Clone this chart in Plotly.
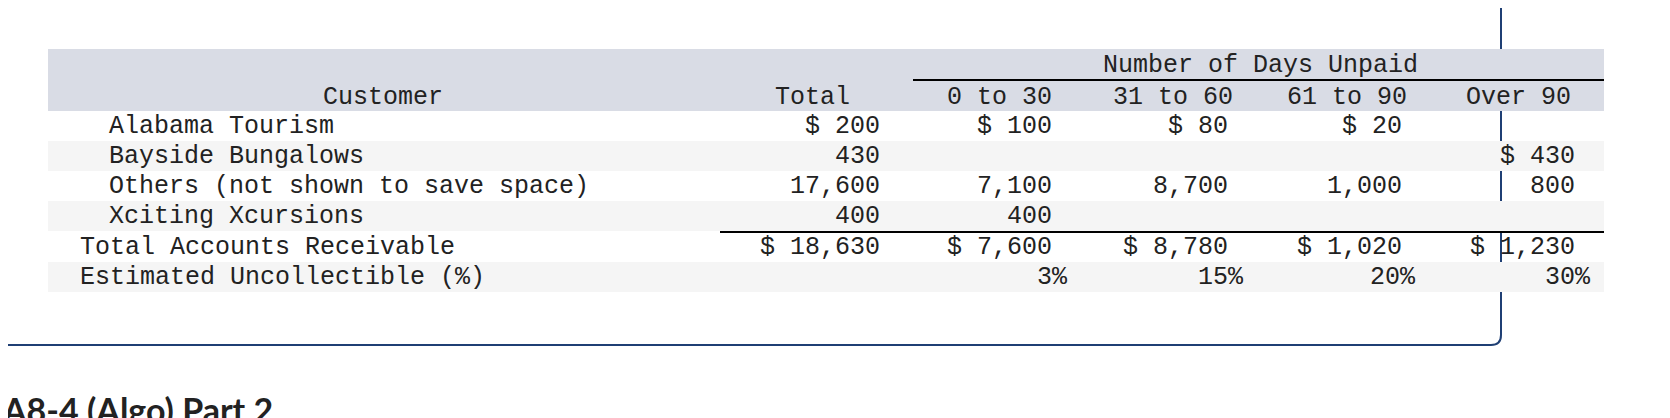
import plotly.graph_objects as go

customers = ["Alabama Tourism", "Bayside Bungalows", "Others (not shown to save space)", "Xciting Xcursions"]
total = [200, 430, 17600, 400]
d0_30 = [100, None, 7100, 400]
d31_60 = [80, None, 8700, None]
d61_90 = [20, None, 1000, None]
over90 = [None, 430, 800, None]
col_headers = ["Total", "0 to 30", "31 to 60", "61 to 90", "Over 90"]
totals_row = [18630, 7600, 8780, 1020, 1230]
pct = [3, 15, 20, 30]

FONT = "Liberation Mono"
FS = 25
INK = "#222222"
BLUE = "#1f3f74"

col_right = [882, 1054, 1230, 1404, 1577]
head_right = [852, 1054, 1235, 1409, 1573]
pct_right = [1070, 1246, 1418, 1593]
row_y = [125, 155, 185, 215, 246, 276]

fig = go.Figure()
shapes = []
shapes.append(dict(type="path", path="M 1501 -20 L 1501 334 Q 1501 344 1491 344 L -50 344",
                   line=dict(color=BLUE, width=2), layer="below"))
shapes.append(dict(type="rect", x0=48, x1=1604, y0=48, y1=110, fillcolor="#d9dce5", line_width=0, layer="below"))
for y0 in [140, 200, 261]:
    shapes.append(dict(type="rect", x0=48, x1=1604, y0=y0, y1=y0 + 30, fillcolor="#f5f5f5", line_width=0, layer="below"))
shapes.append(dict(type="line", x0=913, x1=1604, y0=79, y1=79, line=dict(color="black", width=2)))
shapes.append(dict(type="line", x0=720, x1=1604, y0=231, y1=231, line=dict(color="black", width=2)))

ann = []
def txt(x, y, s, anchor="right", size=FS, font=FONT, color=INK, yanchor="middle", xshift=0):
    ann.append(dict(x=x, y=y, text=s, xref="x", yref="y", showarrow=False, xanchor=anchor,
                    yanchor=yanchor, xshift=xshift, font=dict(family=font, size=size, color=color)))

txt(1260, 64, "Number of Days Unpaid", "center")
txt(383, 96, "Customer", "center")
for h, x in zip(col_headers, head_right):
    txt(x, 96, h)

cols = [total, d0_30, d31_60, d61_90, over90]
first_seen = [False] * len(cols)
for i, name in enumerate(customers):
    txt(107, row_y[i], name, "left")
    for j, (c, x) in enumerate(zip(cols, col_right)):
        v = c[i]
        if v is None:
            continue
        s = f"{v:,}"
        if not first_seen[j]:
            s = "$ " + s
            first_seen[j] = True
        txt(x, row_y[i], s)

txt(78, row_y[4], "Total Accounts Receivable", "left")
for v, x in zip(totals_row, col_right):
    txt(x, row_y[4], f"$ {v:,}")
txt(78, row_y[5], "Estimated Uncollectible (%)", "left")
for v, x in zip(pct, pct_right):
    txt(x, row_y[5], f"{v}%")

txt(10, 386, "<b>A8-4 (Algo) Part 2</b>", "left", size=34, font="Lato", color="#222222",
    yanchor="top", xshift=-10)

fig.update_layout(
    width=1670, height=418, margin=dict(l=0, r=0, t=0, b=0),
    paper_bgcolor="white", plot_bgcolor="white",
    xaxis=dict(range=[8, 1678], visible=False, fixedrange=True),
    yaxis=dict(range=[425, 7], visible=False, fixedrange=True),
    shapes=shapes, annotations=ann, showlegend=False,
)
fig.write_html("out.html")
